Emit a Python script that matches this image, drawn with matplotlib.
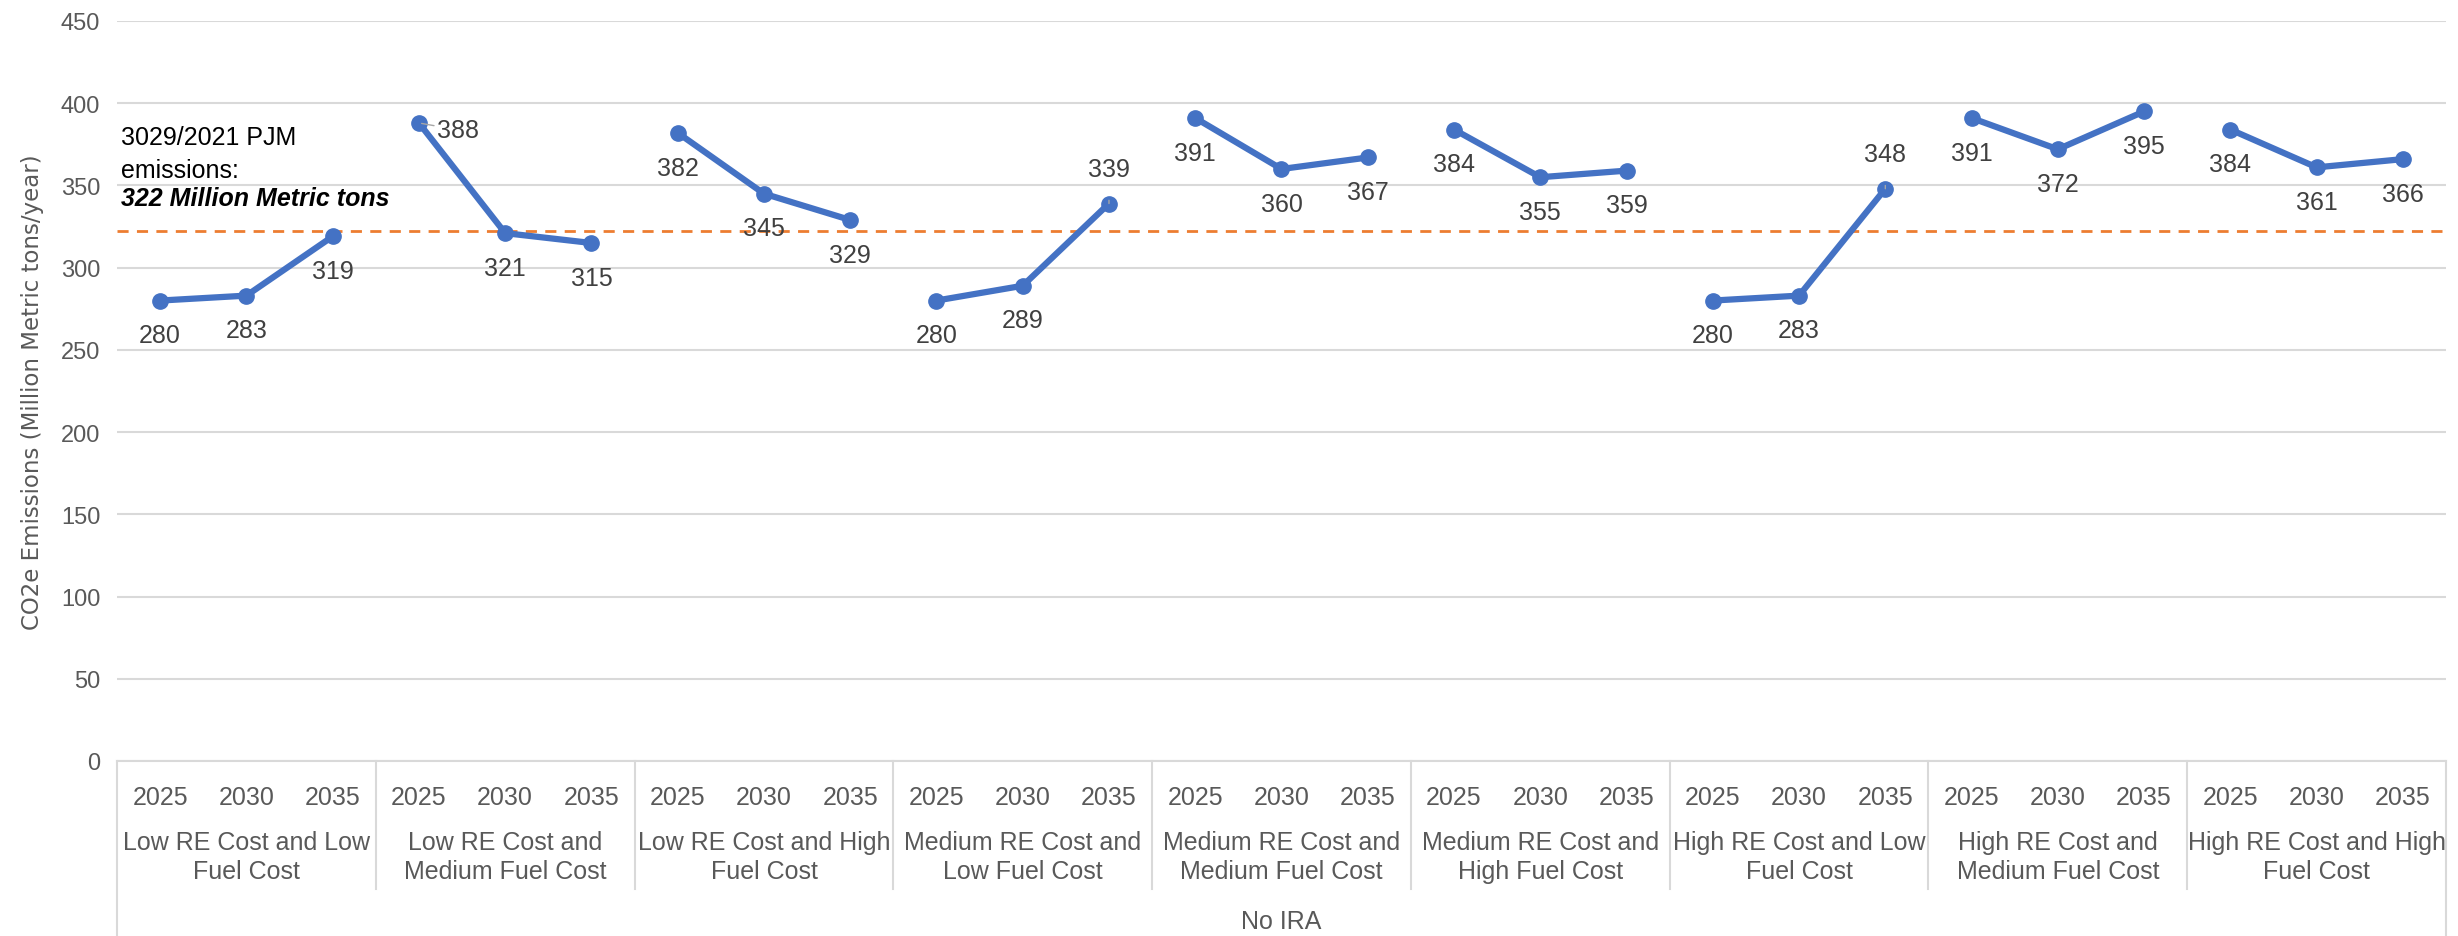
import matplotlib
matplotlib.use("Agg")
import matplotlib.pyplot as plt
from matplotlib.font_manager import findfont, FontProperties

# data
scenarios = ["Low RE Cost and Low\nFuel Cost", "Low RE Cost and\nMedium Fuel Cost",
             "Low RE Cost and High\nFuel Cost", "Medium RE Cost and\nLow Fuel Cost",
             "Medium RE Cost and\nMedium Fuel Cost", "Medium RE Cost and\nHigh Fuel Cost",
             "High RE Cost and Low\nFuel Cost", "High RE Cost and\nMedium Fuel Cost",
             "High RE Cost and High\nFuel Cost"]
years = ["2025", "2030", "2035"]
emissions = [[280, 283, 319], [388, 321, 315], [382, 345, 329],
             [280, 289, 339], [391, 360, 367], [384, 355, 359],
             [280, 283, 348], [391, 372, 395], [384, 361, 366]]
label_pos = [["b", "b", "b"], ["r", "b", "b"], ["b", "b", "b"],
             ["b", "b", "t"], ["b", "b", "b"], ["b", "b", "b"],
             ["b", "b", "t"], ["b", "b", "b"], ["b", "b", "b"]]
ref_value = 322
group_name = "No IRA"

narrow = "Liberation Sans Narrow"
try:
    findfont(FontProperties(family=narrow), fallback_to_default=False)
except Exception:
    narrow = "Liberation Sans"

blue = "#4472C4"
grey = "#595959"
dark = "#404040"
gridc = "#D9D9D9"

fig = plt.figure(figsize=(24.58, 9.37), dpi=100)
ax = fig.add_axes([117 / 2458, 1 - 762 / 937, (2446 - 117) / 2458, 740 / 937])

n = len(years)
for g, vals in enumerate(emissions):
    xs = [g * n + i for i in range(n)]
    ax.plot(xs, vals, color=blue, lw=4.5, marker="o", ms=11, zorder=3,
            solid_capstyle="round")
    for x, v, p in zip(xs, vals, label_pos[g]):
        if p == "b":
            ax.annotate(str(v), (x, v), xytext=(0, -25), textcoords="offset points",
                        ha="center", va="center", fontsize=18, color=dark,
                        family="Liberation Sans")
        elif p == "t":
            ax.annotate(str(v), (x, v), xytext=(0, 25), textcoords="offset points",
                        ha="center", va="center", fontsize=18, color=dark,
                        family="Liberation Sans",
                        arrowprops=dict(arrowstyle="-", color="#A6A6A6", lw=1,
                                        shrinkA=12, shrinkB=4))
        else:
            ax.annotate(str(v), (x, v), xytext=(28, -5), textcoords="offset points",
                        ha="center", va="center", fontsize=18, color=dark,
                        family="Liberation Sans",
                        arrowprops=dict(arrowstyle="-", color="#A6A6A6", lw=1,
                                        shrinkA=18, shrinkB=2))

ax.axhline(ref_value, color="#ED7D31", lw=2, ls=(0, (4, 3)), zorder=2)

ax.set_xlim(-0.5, len(emissions) * n - 0.5)
ax.set_ylim(0, 450)
ax.set_yticks(range(0, 451, 50))
ax.tick_params(axis="y", length=0, pad=12, labelsize=17, labelcolor=grey)
for t in ax.get_yticklabels():
    t.set_family(narrow)
ax.set_xticks([])
ax.grid(axis="y", color=gridc, lw=1.5)
ax.set_axisbelow(True)
for s in ["top", "right", "left"]:
    ax.spines[s].set_visible(False)
ax.spines["bottom"].set_color(gridc)
ax.spines["bottom"].set_linewidth(1.5)

ax.set_ylabel("CO2e Emissions (Million Metric tons/year)", fontsize=16.5, color=grey,
              labelpad=12)

# multi-level category axis below the plot
tr = ax.get_xaxis_transform()
for g, name in enumerate(scenarios):
    for i, yr in enumerate(years):
        ax.text(g * n + i, -0.0486, yr, transform=tr, ha="center", va="center",
                fontsize=18, color=grey, family=narrow, clip_on=False)
    ax.text(g * n + 1, -0.129, name, transform=tr, ha="center", va="center",
            fontsize=18, color=grey, family=narrow, linespacing=1.25, clip_on=False)
for g in range(1, len(emissions)):
    ax.plot([g * n - 0.5] * 2, [0, -0.173], transform=tr, color=gridc, lw=1.5,
            clip_on=False)
for xb in [-0.5, len(emissions) * n - 0.5]:
    ax.plot([xb, xb], [0, -0.24], transform=tr, color=gridc, lw=1.5, clip_on=False)
ax.text((len(emissions) * n - 1) / 2, -0.216, group_name, transform=tr, ha="center",
        va="center", fontsize=18, color=grey, family=narrow, clip_on=False)

# reference annotation
ax.text(0.0017, 0.843, "3029/2021 PJM", transform=ax.transAxes, fontsize=18,
        color="black", family=narrow, va="center")
ax.text(0.0017, 0.799, "emissions:", transform=ax.transAxes, fontsize=18,
        color="black", family=narrow, va="center")
ax.text(0.0017, 0.761, "322 Million Metric tons", transform=ax.transAxes, fontsize=18,
        color="black", family=narrow, va="center", weight="bold", style="italic")

fig.savefig("out.png", dpi=100)
